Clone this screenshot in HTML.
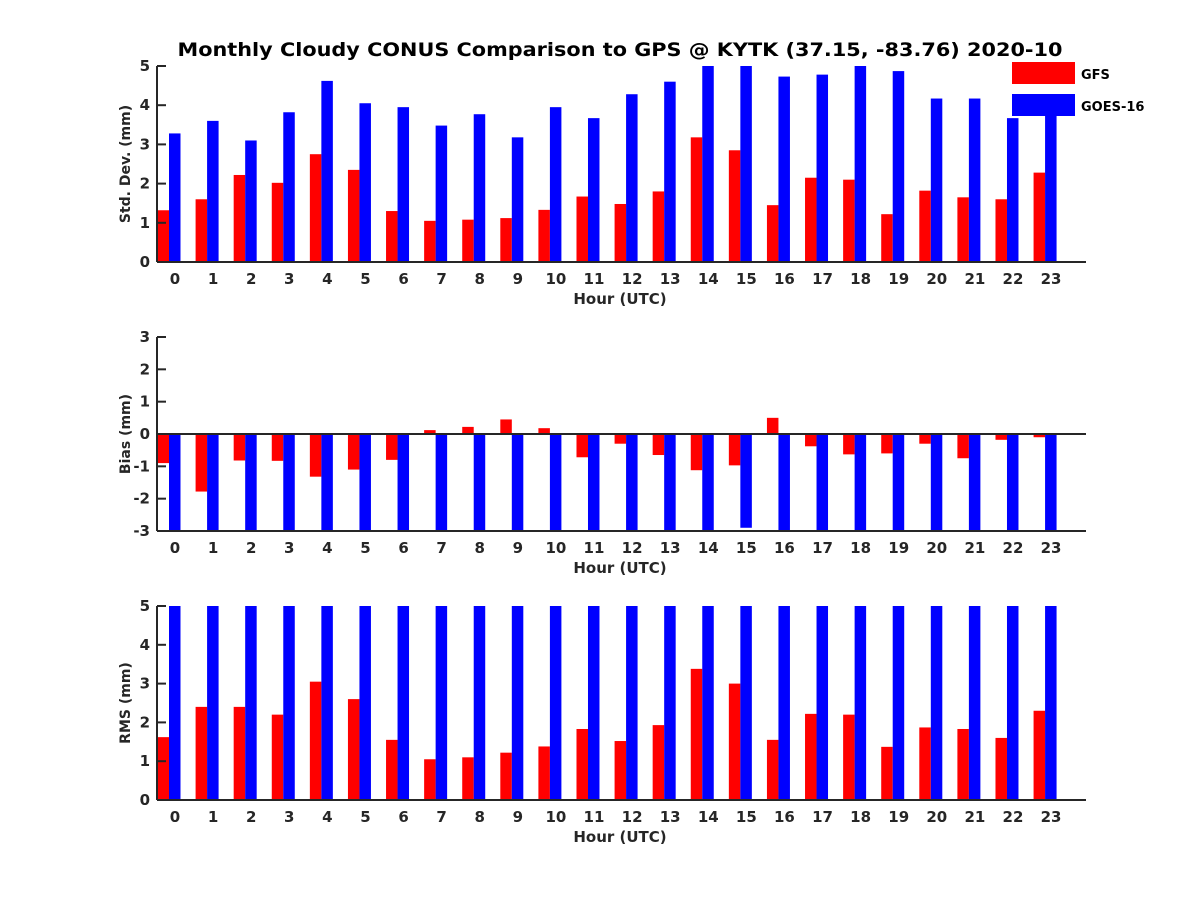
<!DOCTYPE html>
<html><head><meta charset="utf-8"><style>
body{margin:0;background:#fff}
svg text{font-family:"DejaVu Sans","Liberation Sans",sans-serif;font-weight:bold}
</style></head><body>
<svg id="c" width="1200" height="900" viewBox="0 0 1200 900" xmlns="http://www.w3.org/2000/svg">
<text x="620" y="56" text-anchor="middle" font-size="19" textLength="885" lengthAdjust="spacingAndGlyphs" fill="#000">Monthly Cloudy CONUS Comparison to GPS @ KYTK (37.15, -83.76) 2020-10</text>
<g id="legend">
<rect x="1012" y="62" width="63" height="22" fill="#ff0000"/>
<text x="1081" y="79" font-size="13" fill="#000">GFS</text>
<rect x="1012" y="94" width="63" height="22" fill="#0000ff"/>
<text x="1081" y="111" font-size="13" fill="#000">GOES-16</text>
</g>
</svg>
<script>
const hours=[0,1,2,3,4,5,6,7,8,9,10,11,12,13,14,15,16,17,18,19,20,21,22,23];
const stdGFS=[1.32,1.6,2.22,2.02,2.75,2.35,1.3,1.05,1.08,1.12,1.33,1.67,1.48,1.8,3.18,2.85,1.45,2.15,2.1,1.22,1.82,1.65,1.6,2.28];
const stdGOES=[3.28,3.6,3.1,3.82,4.62,4.05,3.95,3.48,3.77,3.18,3.95,3.67,4.28,4.6,5.2,5.2,4.73,4.78,5.2,4.87,4.17,4.17,3.67,3.9];
const biasGFS=[-0.9,-1.78,-0.82,-0.83,-1.32,-1.1,-0.8,0.12,0.22,0.45,0.18,-0.72,-0.3,-0.65,-1.12,-0.97,0.5,-0.38,-0.63,-0.6,-0.3,-0.75,-0.18,-0.1];
const biasGOES=[-3.5,-3.5,-3.5,-3.5,-3.5,-3.5,-3.5,-3.5,-3.5,-3.5,-3.5,-3.5,-3.5,-3.5,-3.5,-2.9,-3.5,-3.5,-3.5,-3.5,-3.5,-3.5,-3.5,-3.5];
const rmsGFS=[1.62,2.4,2.4,2.2,3.05,2.6,1.55,1.05,1.1,1.22,1.38,1.83,1.52,1.93,3.38,3.0,1.55,2.22,2.2,1.37,1.87,1.83,1.6,2.3];
const rmsGOES=[6,6,6,6,6,6,6,6,6,6,6,6,6,6,6,6,6,6,6,6,6,6,6,6];
const stdTicks=[0,1,2,3,4,5], biasTicks=[-3,-2,-1,0,1,2,3], rmsTicks=[0,1,2,3,4,5];
const NS="http://www.w3.org/2000/svg";
const svg=document.getElementById('c');
const X0=157,X1=1086;
function xs(h){return 169+h*38.09;}
function mk(t,a,p){const e=document.createElementNS(NS,t);for(const k in a)e.setAttribute(k,a[k]);(p||svg).appendChild(e);return e;}
function panel(id,top,bot,ymin,ymax,ticks,gfs,goes,ylabel,zeroLine){
  const g=mk('g',{});
  
  
  const ys=v=>bot-(v-ymin)/(ymax-ymin)*(bot-top);
  const cp=mk('clipPath',{id:'cp'+id},g);
  mk('rect',{x:X0,y:top,width:X1-X0,height:bot-top},cp);
  const bars=mk('g',{'clip-path':'url(#cp'+id+')'},g);
  const base=Math.max(ymin,Math.min(ymax,0));
  hours.forEach((h,i)=>{
    [[gfs[i],'#ff0000',-11.5,'gfs'],[goes[i],'#0000ff',0,'goes']].forEach(([v,c,off,nm])=>{
      const y0=ys(base),y1=ys(v);
      const r=mk('rect',{x:xs(h)+off,y:Math.min(y0,y1),width:11.5,height:Math.abs(y1-y0),fill:c},bars);
      
      
    });
  });
  const ax=mk('g',{stroke:'#262626','stroke-width':2,fill:'none'},g);
  
  
  mk('line',{x1:X0,y1:top,x2:X0,y2:bot},ax);
  mk('line',{x1:X0,y1:bot,x2:X1,y2:bot},ax);
  if(zeroLine) mk('line',{x1:X0,y1:ys(0),x2:X1,y2:ys(0)},ax);
  ticks.forEach(t=>{
    mk('line',{x1:X0,y1:ys(t),x2:X0+9,y2:ys(t)},ax);
    const tx=mk('text',{x:X0-7,y:ys(t)+5,'text-anchor':'end','font-size':15,fill:'#262626'},g);
    tx.textContent=t;
    
    
  });
  hours.forEach(h=>{
    const tx=mk('text',{x:xs(h)+6,y:bot+22,'text-anchor':'middle','font-size':15,fill:'#262626'},g);
    tx.textContent=h;
    
    
  });
  const xl=mk('text',{x:620,y:bot+42,'text-anchor':'middle','font-size':15,fill:'#262626'},g);
  xl.textContent='Hour (UTC)';
  
  
  const cy=(top+bot)/2;
  const yl=mk('text',{x:130,y:cy,'text-anchor':'middle','font-size':14,fill:'#262626',transform:'rotate(-90 130 '+cy+')'},g);
  yl.textContent=ylabel;
  
  
}
panel('std',66,262,0,5,stdTicks,stdGFS,stdGOES,'Std. Dev. (mm)',false);
panel('bias',337,531,-3,3,biasTicks,biasGFS,biasGOES,'Bias (mm)',true);
panel('rms',606,800,0,5,rmsTicks,rmsGFS,rmsGOES,'RMS (mm)',false);
svg.appendChild(document.getElementById('legend'));
</script>
</body></html>
